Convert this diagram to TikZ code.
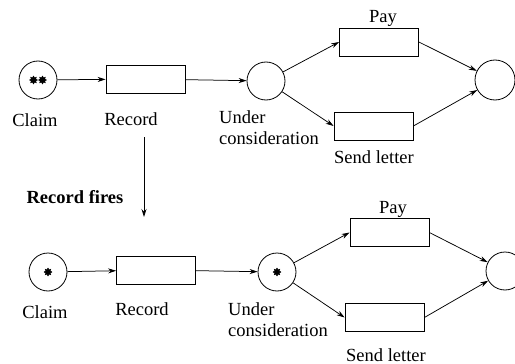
\documentclass[tikz,border=0pt]{standalone}
\usepackage{fontspec}
\setmainfont{Liberation Serif}
\usetikzlibrary{arrows.meta,shapes.geometric}
\begin{document}
\begin{tikzpicture}[x=1pt,y=-1pt,
  every node/.style={font=\fontsize{18.5}{21}\selectfont},
  place/.style={draw,circle,minimum size=38pt,inner sep=0pt,line width=0.8pt},
  trans/.style={draw,rectangle,minimum width=79pt,minimum height=28pt,inner sep=0pt,line width=0.8pt},
  token/.style={star,star points=8,star point ratio=1.6,fill=black,draw=black,line width=0.4pt,minimum size=8pt,inner sep=0pt},
  lbl/.style={inner sep=0pt},
  arc/.style={-{Stealth[length=8pt,width=5pt]},line width=0.75pt}]
\useasboundingbox (0,0) rectangle (515,364);

% state before firing
\node[place] (c1) at (38,80) {};
\node[token] (t1a) at (33.5,80) {};
\node[token] (t1b) at (42.5,80) {};
\node[trans] (r1) at (145.5,79) {};
\node[place] (u1) at (266,81) {};
\node[trans] (p1) at (379,42) {};
\node[trans] (s1) at (373.5,126) {};
\node[place,minimum size=40pt] (e1) at (495,80) {};
\node[lbl] (lc1) at (35,120) {Claim};
\node[lbl] (lr1) at (131,119) {Record};
\node[lbl,align=left,anchor=west] (lu1) at (219,127.5) {Under\\consideration};
\node[lbl] (lp1) at (383,18) {Pay};
\node[lbl] (ls1) at (374,157) {Send letter};
\draw[arc] (c1) -- (r1);
\draw[arc] (r1) -- (u1);
\draw[arc] (u1) -- (p1.west);
\draw[arc] (u1) -- (s1.west);
\draw[arc] (p1.east) -- (e1);
\draw[arc] (s1.east) -- (e1);

% firing step
\coordinate (fstart) at (144,137);
\coordinate (fend) at (144,217);
\draw[arc] (fstart) -- (fend);
\node[lbl,font=\fontsize{18.5}{21}\selectfont\bfseries] (lf) at (75,197) {Record fires};

% state after firing
\node[place] (c2) at (48,272) {};
\node[token] (t2) at (48,272) {};
\node[trans] (r2) at (156,270) {};
\node[place] (u2) at (277,272) {};
\node[token] (t3) at (277,272) {};
\node[trans] (p2) at (389.5,232.5) {};
\node[trans] (s2) at (384.5,317.5) {};
\node[place] (e2) at (505,271) {};
\node[lbl] (lc2) at (45,312) {Claim};
\node[lbl] (lr2) at (142,309) {Record};
\node[lbl,align=left,anchor=west] (lu2) at (228,320) {Under\\consideration};
\node[lbl] (lp2) at (393,209) {Pay};
\node[lbl] (ls2) at (386,355) {Send letter};
\draw[arc] (c2) -- (r2);
\draw[arc] (r2) -- (u2);
\draw[arc] (u2) -- (p2.west);
\draw[arc] (u2) -- (s2.west);
\draw[arc] (p2.east) -- (e2);
\draw[arc] (s2.east) -- (e2);
\end{tikzpicture}
\end{document}
